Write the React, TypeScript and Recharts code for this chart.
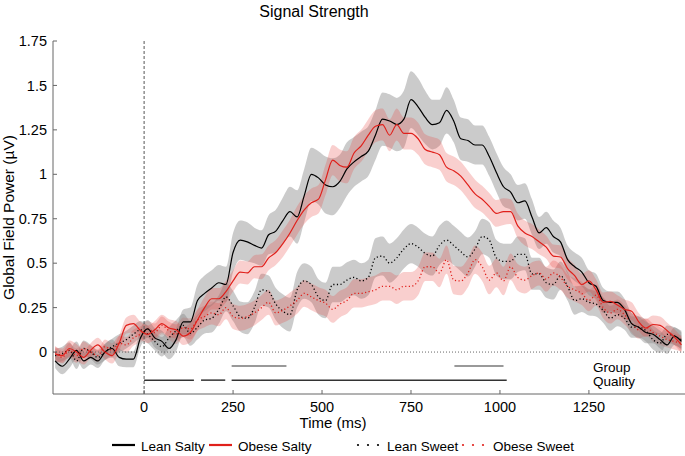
import React from 'react';
import { ComposedChart, Area, Line, XAxis, YAxis, ReferenceLine } from 'recharts';

const times = [
  -250, -230, -210, -190, -170, -150, -130, -110, -90, -70, -50, -30, -10,
  10, 30, 50, 70, 90, 110, 130, 150, 170, 190,
  210, 230, 250, 270, 290, 310, 330, 350, 370, 390, 410, 430, 450, 470, 490,
  510, 530, 550, 570, 590, 610, 630, 650, 670, 690, 710, 730, 750, 770, 790, 810, 830, 850, 870, 890, 910, 930, 950, 970, 990,
  1010, 1030, 1050, 1070, 1090, 1110, 1130, 1150, 1170, 1190, 1210, 1230, 1250, 1270, 1290, 1310, 1330, 1350, 1370, 1390, 1410, 1430, 1450, 1470, 1490, 1510,
];

const leanSalty = [
  -0.05, -0.08, -0.04, 0.01, -0.05, -0.03, -0.05, 0.0, 0.02, -0.03, -0.04, -0.04, 0.08,
  0.13, 0.08, 0.06, 0.02, 0.07, 0.17, 0.17, 0.29, 0.33, 0.36,
  0.39, 0.38, 0.56, 0.63, 0.62, 0.6, 0.585, 0.66, 0.68, 0.74, 0.79, 0.76, 0.88, 1.0, 0.98,
  0.94, 0.93, 0.96, 1.03, 1.07, 1.1, 1.13, 1.22, 1.31, 1.3, 1.28, 1.31, 1.42, 1.38, 1.32, 1.28, 1.29, 1.36, 1.3, 1.2, 1.19, 1.165, 1.165, 1.1, 1.01,
  0.93, 0.9, 0.84, 0.85, 0.76, 0.67, 0.7, 0.65, 0.62, 0.52, 0.48, 0.45, 0.39, 0.37, 0.29, 0.28, 0.28, 0.24, 0.16, 0.14, 0.11, 0.1, 0.07, 0.04, 0.09, 0.06,
];
const leanSaltyErr = [
  0.04, 0.045, 0.05, 0.05, 0.045, 0.04, 0.04, 0.045, 0.05, 0.05, 0.045, 0.045, 0.05,
  0.05, 0.055, 0.06, 0.06, 0.065, 0.07, 0.08, 0.09, 0.1, 0.1,
  0.1, 0.1, 0.11, 0.11, 0.11, 0.1, 0.1, 0.11, 0.12, 0.13, 0.14, 0.15, 0.15, 0.15, 0.15,
  0.16, 0.16, 0.15, 0.15, 0.14, 0.14, 0.14, 0.14, 0.15, 0.15, 0.15, 0.16, 0.16, 0.16, 0.15, 0.14, 0.13, 0.13, 0.12, 0.12, 0.12, 0.11, 0.11, 0.11, 0.11,
  0.11, 0.1, 0.1, 0.1, 0.1, 0.09, 0.09, 0.09, 0.08, 0.08, 0.08, 0.08, 0.07, 0.07, 0.07, 0.06, 0.06, 0.06, 0.06, 0.06, 0.06, 0.05, 0.05, 0.05, 0.05, 0.05,
];

const obeseSalty = [
  -0.01, -0.02, 0.02, 0.0, -0.03, 0.01, 0.04, 0.0, -0.02, 0.05, 0.15, 0.16, 0.12,
  0.1, 0.125, 0.16, 0.135, 0.125, 0.09, 0.11, 0.18, 0.25, 0.3,
  0.3, 0.34, 0.4, 0.45, 0.445, 0.48, 0.48, 0.53, 0.56, 0.61, 0.67, 0.74, 0.8, 0.84, 0.86,
  0.97, 1.08, 1.05, 1.04, 1.12, 1.16, 1.22, 1.27, 1.28, 1.22, 1.28, 1.23, 1.23, 1.2, 1.14, 1.125, 1.11, 1.04, 1.02, 0.99, 0.94, 0.89, 0.86, 0.82, 0.78,
  0.79, 0.79, 0.71, 0.67, 0.65, 0.62, 0.59, 0.54, 0.535, 0.47, 0.43, 0.38, 0.4, 0.35, 0.28, 0.285, 0.265, 0.24, 0.23, 0.17, 0.135, 0.155, 0.15, 0.12, 0.085, 0.04,
];
const obeseSaltyErr = [
  0.04, 0.04, 0.045, 0.045, 0.04, 0.04, 0.04, 0.04, 0.045, 0.045, 0.045, 0.05, 0.05,
  0.05, 0.05, 0.05, 0.05, 0.05, 0.05, 0.055, 0.06, 0.06, 0.06,
  0.06, 0.06, 0.06, 0.065, 0.065, 0.065, 0.07, 0.07, 0.07, 0.075, 0.075, 0.08, 0.08, 0.08, 0.08,
  0.085, 0.085, 0.09, 0.09, 0.09, 0.09, 0.09, 0.09, 0.09, 0.09, 0.09, 0.09, 0.09, 0.09, 0.085, 0.085, 0.085, 0.08, 0.08, 0.08, 0.08, 0.08, 0.075, 0.075, 0.075,
  0.075, 0.07, 0.07, 0.07, 0.07, 0.07, 0.065, 0.065, 0.065, 0.06, 0.06, 0.06, 0.06, 0.06, 0.055, 0.055, 0.055, 0.055, 0.05, 0.05, 0.05, 0.05, 0.05, 0.045, 0.045, 0.045,
];

const leanSweet = [
  -0.02, -0.01, 0.01, -0.05, 0.02, 0.0, -0.03, 0.0, 0.03, 0.05, 0.07, 0.1, 0.125,
  0.1, 0.06, 0.03, 0.08, 0.12, 0.15, 0.105, 0.14, 0.18, 0.19,
  0.24, 0.31, 0.26, 0.2, 0.19, 0.25, 0.35, 0.34, 0.27, 0.23, 0.21, 0.35, 0.4, 0.38, 0.31,
  0.29, 0.38, 0.38, 0.405, 0.42, 0.4, 0.42, 0.53, 0.54, 0.5, 0.53, 0.58, 0.61, 0.59, 0.555, 0.54, 0.6, 0.63, 0.6, 0.565, 0.535, 0.58, 0.65, 0.63, 0.53,
  0.51, 0.51, 0.55, 0.55, 0.44, 0.44, 0.39, 0.38, 0.43, 0.37, 0.29, 0.3, 0.28, 0.27, 0.235, 0.19, 0.21, 0.19, 0.14, 0.14, 0.12, 0.07, 0.05, 0.1, 0.09, 0.07,
];
const leanSweetErr = [
  0.04, 0.04, 0.045, 0.045, 0.045, 0.04, 0.04, 0.045, 0.045, 0.05, 0.05, 0.05, 0.05,
  0.05, 0.05, 0.055, 0.06, 0.06, 0.065, 0.07, 0.07, 0.075, 0.08,
  0.08, 0.08, 0.085, 0.085, 0.09, 0.09, 0.09, 0.09, 0.09, 0.095, 0.095, 0.1, 0.1, 0.1, 0.1,
  0.1, 0.1, 0.1, 0.1, 0.1, 0.1, 0.1, 0.11, 0.11, 0.11, 0.11, 0.11, 0.11, 0.11, 0.11, 0.11, 0.11, 0.11, 0.11, 0.11, 0.11, 0.1, 0.1, 0.1, 0.1,
  0.1, 0.1, 0.1, 0.09, 0.09, 0.09, 0.085, 0.085, 0.08, 0.08, 0.08, 0.075, 0.075, 0.07, 0.07, 0.07, 0.065, 0.065, 0.06, 0.06, 0.06, 0.055, 0.055, 0.05, 0.05, 0.05,
];

const obeseSweet = [
  0.0, -0.03, 0.01, -0.02, 0.02, 0.0, -0.02, 0.03, 0.01, 0.05, 0.04, 0.08, 0.1,
  0.13, 0.11, 0.15, 0.12, 0.1, 0.14, 0.13, 0.18, 0.2, 0.22,
  0.21, 0.25, 0.2, 0.19, 0.2, 0.22, 0.25, 0.28, 0.22, 0.235, 0.26, 0.29, 0.33, 0.31, 0.29,
  0.275, 0.24, 0.27, 0.29, 0.33, 0.33, 0.34, 0.35, 0.37, 0.37, 0.35, 0.37, 0.37, 0.4, 0.48, 0.48, 0.445, 0.52, 0.405, 0.4, 0.445, 0.52, 0.48, 0.405, 0.445,
  0.4, 0.48, 0.42, 0.405, 0.43, 0.445, 0.41, 0.445, 0.42, 0.37, 0.35, 0.33, 0.29, 0.32, 0.25, 0.22, 0.24, 0.21, 0.165, 0.125, 0.14, 0.11, 0.09, 0.07, 0.06, 0.05,
];
const obeseSweetErr = [
  0.035, 0.035, 0.04, 0.04, 0.04, 0.035, 0.035, 0.04, 0.04, 0.04, 0.045, 0.045, 0.045,
  0.045, 0.05, 0.05, 0.05, 0.055, 0.055, 0.06, 0.06, 0.06, 0.065,
  0.065, 0.065, 0.07, 0.07, 0.07, 0.07, 0.07, 0.07, 0.07, 0.07, 0.075, 0.075, 0.075, 0.075, 0.075,
  0.075, 0.075, 0.075, 0.075, 0.08, 0.08, 0.08, 0.08, 0.08, 0.08, 0.08, 0.08, 0.08, 0.08, 0.08, 0.08, 0.08, 0.08, 0.08, 0.08, 0.08, 0.08, 0.08, 0.08, 0.08,
  0.08, 0.075, 0.075, 0.075, 0.075, 0.07, 0.07, 0.07, 0.07, 0.065, 0.065, 0.065, 0.06, 0.06, 0.06, 0.06, 0.055, 0.055, 0.055, 0.05, 0.05, 0.05, 0.05, 0.045, 0.045, 0.045,
];

const xTicks = [0, 250, 500, 750, 1000, 1250];
const yTicks = [0, 0.25, 0.5, 0.75, 1, 1.25, 1.5, 1.75];

// significance bars (ms ranges)
const groupSig = [[246, 400], [872, 1010]];
const qualitySig = [[0, 140], [160, 228], [246, 1019]];
const groupLevel = -0.079;
const qualityLevel = -0.158;

const legendItems = [
  { label: 'Lean Salty', color: '#000000', dotted: false },
  { label: 'Obese Salty', color: '#e0201b', dotted: false },
  { label: 'Lean Sweet', color: '#000000', dotted: true },
  { label: 'Obese Sweet', color: '#e0201b', dotted: true },
];

const RED = '#e0201b';
const FONT = '"Liberation Sans", Arial, Helvetica, sans-serif';

const band = (v: number[], e: number[], i: number) => [v[i] - e[i], v[i] + e[i]];

const data = times.map((t, i) => ({
  t,
  ls: leanSalty[i],
  os: obeseSalty[i],
  lw: leanSweet[i],
  ow: obeseSweet[i],
  lsB: band(leanSalty, leanSaltyErr, i),
  osB: band(obeseSalty, obeseSaltyErr, i),
  lwB: band(leanSweet, leanSweetErr, i),
  owB: band(obeseSweet, obeseSweetErr, i),
}));

export default function App() {
  const legendX = [112, 209, 357, 462];
  const legendTextX = [141, 238, 387, 493];
  return (
    <div style={{ position: 'fixed', left: 0, top: 0, width: 685, height: 456, overflow: 'hidden', background: '#fff', fontFamily: FONT }}>
      <div style={{ position: 'absolute', left: 0, top: 0 }}>
        <ComposedChart
          width={685}
          height={456}
          data={data}
          margin={{ top: 41, right: 0, bottom: 0, left: 0 }}
        >
          <XAxis
            dataKey="t"
            type="number"
            domain={[-256, 1520]}
            allowDataOverflow
            ticks={xTicks}
            height={62}
            tickSize={-4}
            tickMargin={12}
            stroke="#666"
            tick={{ fill: '#000', fontSize: 14.5, fontFamily: FONT }}
          />
          <YAxis
            type="number"
            domain={[-0.236, 1.75]}
            allowDataOverflow
            ticks={yTicks}
            width={53}
            tickSize={-4}
            tickMargin={10}
            stroke="#666"
            tick={{ fill: '#000', fontSize: 14.5, fontFamily: FONT }}
          />
          <ReferenceLine y={0} stroke="#666" strokeDasharray="1 2" />
          <ReferenceLine x={0} stroke="#555" strokeDasharray="3 2" />
          <Area type="monotone" dataKey="lwB" stroke="none" fill="#8c8c8c" fillOpacity={0.45} isAnimationActive={false} activeDot={false} />
          <Area type="monotone" dataKey="owB" stroke="none" fill="#e8413c" fillOpacity={0.25} isAnimationActive={false} activeDot={false} />
          <Area type="monotone" dataKey="lsB" stroke="none" fill="#8c8c8c" fillOpacity={0.45} isAnimationActive={false} activeDot={false} />
          <Area type="monotone" dataKey="osB" stroke="none" fill="#e8413c" fillOpacity={0.25} isAnimationActive={false} activeDot={false} />
          <Line type="monotone" dataKey="lw" stroke="#000" strokeWidth={1.3} strokeDasharray="1.2 2.4" dot={false} activeDot={false} isAnimationActive={false} />
          <Line type="monotone" dataKey="ow" stroke={RED} strokeWidth={1.3} strokeDasharray="1.2 2.4" dot={false} activeDot={false} isAnimationActive={false} />
          <Line type="monotone" dataKey="ls" stroke="#000" strokeWidth={1.2} dot={false} activeDot={false} isAnimationActive={false} />
          <Line type="monotone" dataKey="os" stroke={RED} strokeWidth={1.2} dot={false} activeDot={false} isAnimationActive={false} />
          {groupSig.map(([a, b], i) => (
            <ReferenceLine key={'g' + i} segment={[{ x: a, y: groupLevel }, { x: b, y: groupLevel }]} stroke="#777" strokeWidth={1.5} />
          ))}
          {qualitySig.map(([a, b], i) => (
            <ReferenceLine key={'q' + i} segment={[{ x: a, y: qualityLevel }, { x: b, y: qualityLevel }]} stroke="#333" strokeWidth={1.5} />
          ))}
        </ComposedChart>
      </div>
      <svg width={685} height={456} style={{ position: 'absolute', left: 0, top: 0, display: 'block', overflow: 'visible', pointerEvents: 'none' }}>
        <text x={314} y={17} textAnchor="middle" fontSize={16} fontFamily={FONT} fill="#000">Signal Strength</text>
        <text x={14} y={217.5} textAnchor="middle" fontSize={15.5} fontFamily={FONT} fill="#000" transform="rotate(-90 14 217.5)">Global Field Power (µV)</text>
        <text x={333} y={428} textAnchor="middle" fontSize={15} fontFamily={FONT} fill="#000">Time (ms)</text>
        <text x={593} y={372} fontSize={13.5} fontFamily={FONT} fill="#000">Group</text>
        <text x={593} y={386} fontSize={13.5} fontFamily={FONT} fill="#000">Quality</text>
        {legendItems.map((it, i) => (
          <g key={it.label}>
            {it.dotted ? (
              [0, 10, 20].map((d) => (
                <circle key={d} cx={legendX[i] + 1 + d} cy={445} r={1.1} fill={it.color} />
              ))
            ) : (
              <line x1={legendX[i]} x2={legendX[i] + 23} y1={445} y2={445} stroke={it.color} strokeWidth={2.2} />
            )}
            <text x={legendTextX[i]} y={451} fontSize={13.5} fontFamily={FONT} fill="#000">{it.label}</text>
          </g>
        ))}
      </svg>
    </div>
  );
}
